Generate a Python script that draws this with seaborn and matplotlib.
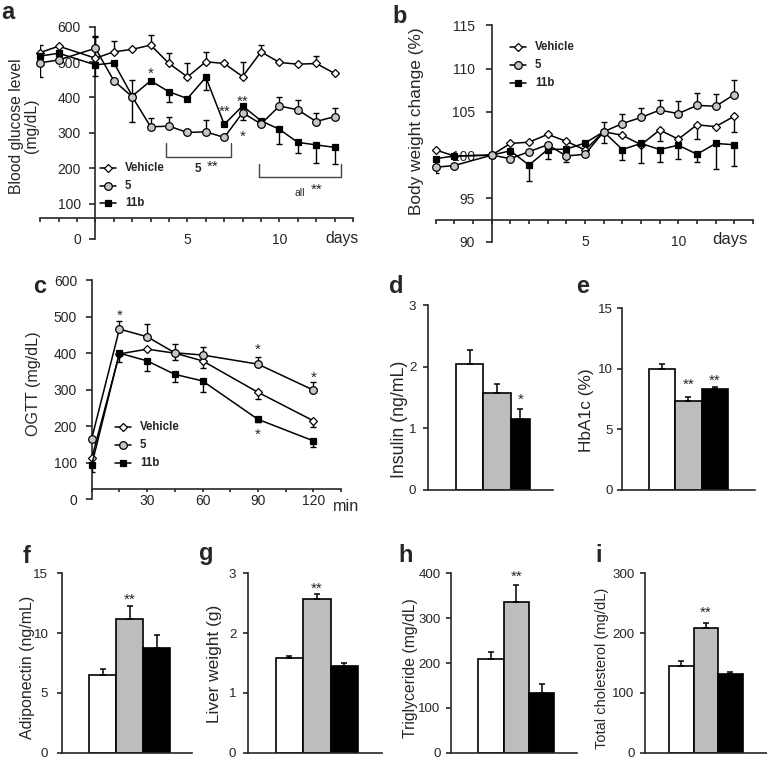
import numpy as np
import pandas as pd
import matplotlib
matplotlib.use("Agg")
import matplotlib.pyplot as plt
import seaborn as sns
from matplotlib.lines import Line2D

# ---------------- data ----------------
days = [-3, -2, 0, 1, 2, 3, 4, 5, 6, 7, 8, 9, 10, 11, 12, 13]

# (a) blood glucose (mg/dL)
glu_vehicle = [527, 545, 511, 529, 536, 548, 496, 458, 501, 496, 459, 529, 499, 494, 496, 468]
glu_vehicle_lo = [0, 0, 0, 0, 0, 0, 0, 0, 0, 0, 0, 0, 0, 0, 0, 0]
glu_vehicle_hi = [21, 0, 60, 31, 0, 29, 30, 40, 27, 0, 40, 19, 0, 0, 21, 0]
glu_5 = [498, 506, 539, 447, 402, 317, 319, 301, 303, 287, 357, 325, 376, 365, 332, 346]
glu_5_lo = [39, 0, 0, 0, 0, 0, 0, 0, 0, 0, 21, 0, 0, 0, 0, 0]
glu_5_hi = [0, 0, 35, 0, 47, 25, 27, 0, 33, 0, 0, 0, 26, 28, 25, 23]
glu_11b = [517, 525, 492, 498, 404, 447, 416, 397, 457, 324, 376, 334, 310, 273, 266, 259]
glu_11b_lo = [0, 0, 30, 0, 72, 0, 28, 8, 36, 0, 0, 0, 42, 31, 52, 47]
glu_11b_hi = [0] * 16

# (b) body weight change (%)
bw_vehicle = [100.6, 99.9, 100.0, 101.35, 101.5, 102.4, 101.6, 100.6, 102.7, 102.3, 101.2, 102.9, 101.85, 103.5, 103.3, 104.5]
bw_vehicle_lo = [0, 0, 0, 0, 0, 0, 0, 0, 0, 0, 0, 1.3, 0.8, 1.6, 0, 1.85]
bw_vehicle_hi = [0] * 16
bw_5 = [98.6, 98.8, 100.0, 99.6, 100.4, 101.2, 99.9, 100.1, 102.7, 103.65, 104.35, 105.2, 104.8, 105.75, 105.65, 107.0]
bw_5_lo = [0.7, 0, 0, 0, 0, 0, 0.65, 0, 0, 0, 0, 0, 0, 0, 0, 0]
bw_5_hi = [0, 0, 0, 0, 0, 0, 0, 0, 1.15, 1.1, 1.05, 1.2, 1.45, 1.4, 1.4, 1.65]
bw_11b = [99.6, 99.9, 100.0, 100.5, 98.85, 100.65, 100.7, 101.4, 102.7, 100.65, 101.35, 100.65, 101.15, 100.1, 101.35, 101.2]
bw_11b_lo = [0, 0, 0, 0, 1.8, 1.05, 0, 0, 1.35, 1.25, 2.3, 1.4, 1.55, 0.9, 3.0, 2.5]
bw_11b_hi = [0] * 16

# (c) OGTT (mg/dL)
ogtt_min = [0, 15, 30, 45, 60, 90, 120]
ogtt_vehicle = [112, 398, 411, 400, 379, 293, 215]
ogtt_vehicle_lo = [0, 0, 0, 20, 20, 19, 16]
ogtt_vehicle_hi = [0] * 7
ogtt_5 = [166, 466, 445, 401, 395, 370, 299]
ogtt_5_lo = [0] * 7
ogtt_5_hi = [0, 22, 34, 23, 23, 20, 23]
ogtt_11b = [94, 400, 379, 342, 324, 219, 160]
ogtt_11b_lo = [18, 23, 28, 20, 30, 8, 18]
ogtt_11b_hi = [0] * 7

# bar panels
groups = ["Vehicle", "5", "11b"]
insulin = [2.04, 1.58, 1.15]
insulin_err = [0.23, 0.14, 0.16]
hba1c = [10.0, 7.38, 8.35]
hba1c_err = [0.38, 0.33, 0.19]
adiponectin = [6.5, 11.15, 8.73]
adiponectin_err = [0.5, 1.12, 1.11]
liver = [1.584, 2.574, 1.444]
liver_err = [0.04, 0.08, 0.056]
triglyceride = [208, 337, 134]
triglyceride_err = [16, 37, 19]
cholesterol = [145.6, 208, 131.6]
cholesterol_err = [7.8, 9.5, 3.4]

# ---------------- style ----------------
sns.set_theme(style="ticks")
plt.rcParams["font.family"] = ["Liberation Sans", "DejaVu Sans"]
plt.rcParams["axes.linewidth"] = 1.2

W, H = 767, 760
fig = plt.figure(figsize=(W / 100, H / 100), dpi=100)

GRAY_PT = "#c6c6c6"
BAR_COLORS = ["white", "#bdbdbd", "black"]
STY = {
    "Vehicle": dict(marker="D", ms=4.4, mfc="white", z=3),
    "11b": dict(marker="s", ms=4.9, mfc="black", z=4),
    "5": dict(marker="o", ms=5.5, mfc=GRAY_PT, z=5),
}


def add_ax(l, t, r, b):
    return fig.add_axes([l / W, 1 - b / H, (r - l) / W, (b - t) / H])


def ftext(x, y, s, **kw):
    fig.text(x / W, 1 - y / H, s, **kw)


def style_axes(ax):
    for s in ["top", "right"]:
        ax.spines[s].set_visible(False)
    for s in ["left", "bottom"]:
        ax.spines[s].set_linewidth(1.2)
        ax.spines[s].set_zorder(1)
    ax.set_xlabel("")
    ax.set_ylabel("")
    ax.set_facecolor("none")
    ax.grid(False)


def draw_lines(ax, x, series):
    for name, y, lo, hi in series:
        st = STY[name]
        ax.errorbar(x, y, yerr=[lo, hi], fmt="none", ecolor="black",
                    elinewidth=1.0, capsize=2.3, capthick=1.0, zorder=st["z"] - 0.5)
        df = pd.DataFrame({"x": x, "y": y})
        sns.lineplot(data=df, x="x", y="y", ax=ax, color="black", linewidth=1.1,
                     marker=st["marker"], markersize=st["ms"], markerfacecolor=st["mfc"],
                     markeredgecolor="black", markeredgewidth=0.9, zorder=st["z"],
                     clip_on=False, legend=False, errorbar=None, sort=False)


def draw_bars(ax, vals, errs, last_width=1.0):
    df = pd.DataFrame({"group": groups, "value": vals})
    sns.barplot(data=df, x="group", y="value", hue="group", order=groups, hue_order=groups,
                palette=BAR_COLORS, saturation=1, width=1.0, edgecolor="black",
                linewidth=1.2, errorbar=None, legend=False, ax=ax)
    xs = [0.0, 1.0, 2.0]
    if last_width != 1.0:
        bars = sorted(ax.patches, key=lambda p: p.get_x())
        bars[-1].set_width(last_width)
        xs[2] = bars[-1].get_x() + last_width / 2
    ax.errorbar(xs, vals, yerr=[[0, 0, 0], errs], fmt="none", ecolor="black",
                elinewidth=1.1, capsize=2.5, capthick=1.1, zorder=3)
    return xs


def annot(ax, x, y, s, size=11, k=0.58, **kw):
    ax.annotate(s, (x, y), xytext=(0, -k * size), textcoords="offset points",
                ha="center", va="baseline", fontsize=size, annotation_clip=False, **kw)


def legend_rows(xm, x_text, ys):
    for name, y in zip(["Vehicle", "5", "11b"], ys):
        st = STY[name]
        yy = 1 - y / H
        fig.add_artist(Line2D([(xm - 8) / W, (xm + 8) / W], [yy, yy], color="black", lw=1.1,
                              transform=fig.transFigure))
        fig.add_artist(Line2D([xm / W], [yy], marker=st["marker"], ms=st["ms"],
                              mfc=st["mfc"], mec="black", mew=0.9, ls="none",
                              transform=fig.transFigure))
        ftext(x_text, y, name, ha="left", va="center", fontsize=8.3, fontweight="bold")


# ---------------- (a) ----------------
ax = add_ax(40.3, 26.7, 353, 239)
draw_lines(ax, days, [("Vehicle", glu_vehicle, glu_vehicle_lo, glu_vehicle_hi),
                      ("11b", glu_11b, glu_11b_lo, glu_11b_hi),
                      ("5", glu_5, glu_5_lo, glu_5_hi)])
style_axes(ax)
ax.set_xlim(-3, 14)
ax.set_ylim(0, 600)
ax.spines["left"].set_position(("data", 0))
ax.spines["bottom"].set_position(("data", 60))
ax.set_xticks(range(-3, 15))
ax.set_xticklabels(["5" if d == 5 else "10" if d == 10 else "" for d in range(-3, 15)])
ax.set_yticks(range(0, 700, 100))
ax.tick_params(axis="y", direction="out", length=4, width=1.2, pad=6.5, labelsize=10)
ax.tick_params(axis="x", direction="out", length=3, width=1.2, pad=8.3, labelsize=10)
ax.set_axisbelow(True)
annot(ax, 13.38, 2, "days", size=11.3, k=0.3)
annot(ax, 3, 480, "*")
annot(ax, 7.04, 372, "**")
annot(ax, 8, 402, "**")
annot(ax, 8, 303, "*")
ax.plot([3.81, 3.81, 7.35, 7.35], [270, 233, 233, 270], color="#444444", lw=1.0, clip_on=False)
ax.plot([8.89, 8.89, 13.34, 13.34], [212, 174, 174, 212], color="#444444", lw=1.0, clip_on=False)
annot(ax, 5.59, 200, "5", size=8.5, k=0.36, fontweight="bold")
annot(ax, 6.39, 218, "**")
annot(ax, 11.11, 131, "all", size=7.5, k=0.3)
annot(ax, 12.02, 153, "**")
legend_rows(108.3, 125, [168.3, 186, 203.3])
ftext(24, 126, "Blood glucose level\n(mg/dL)", rotation=90, ha="center", va="center",
      fontsize=11.3, linespacing=1.0, multialignment="center")

# ---------------- (b) ----------------
ax = add_ax(435.7, 25.3, 753, 241.7)
draw_lines(ax, days, [("Vehicle", bw_vehicle, bw_vehicle_lo, bw_vehicle_hi),
                      ("11b", bw_11b, bw_11b_lo, bw_11b_hi),
                      ("5", bw_5, bw_5_lo, bw_5_hi)])
style_axes(ax)
ax.set_xlim(-3, 14)
ax.set_ylim(90, 115)
ax.spines["left"].set_position(("data", 0))
ax.spines["bottom"].set_position(("data", 92.5))
ax.set_xticks(range(-3, 15))
ax.set_xticklabels(["5" if d == 5 else "10" if d == 10 else "" for d in range(-3, 15)])
ax.set_yticks(range(90, 120, 5))
ax.tick_params(axis="y", direction="out", length=4, width=1.2, pad=8, labelsize=10)
ax.tick_params(axis="x", direction="out", length=3, width=1.2, pad=8, labelsize=10)
ax.set_axisbelow(True)
annot(ax, 12.79, 90.3, "days", size=12, k=0.3)
legend_rows(517.5, 535, [47.3, 65, 82.7])
ftext(416.7, 121, "Body weight change (%)", rotation=90, ha="center", va="center", fontsize=12.4)

# ---------------- (c) ----------------
ax = add_ax(91.7, 280.1, 341, 499.3)
draw_lines(ax, ogtt_min, [("Vehicle", ogtt_vehicle, ogtt_vehicle_lo, ogtt_vehicle_hi),
                          ("11b", ogtt_11b, ogtt_11b_lo, ogtt_11b_hi),
                          ("5", ogtt_5, ogtt_5_lo, ogtt_5_hi)])
style_axes(ax)
ax.set_xlim(0, 135)
ax.set_ylim(0, 600)
ax.spines["bottom"].set_position(("data", 27))
ax.set_xticks(range(0, 150, 15))
ax.set_xticklabels([str(t) if t in (30, 60, 90, 120) else "" for t in range(0, 150, 15)])
ax.set_yticks(range(0, 700, 100))
ax.tick_params(axis="y", direction="out", length=4, width=1.2, pad=6.5, labelsize=10)
ax.tick_params(axis="x", direction="out", length=2.5, width=1.2, pad=1.1, labelsize=10)
ax.set_axisbelow(True)
annot(ax, 137.7, -18, "min", size=11.6, k=0.3)
annot(ax, 15, 515, "*")
annot(ax, 90, 422, "*")
annot(ax, 120, 345, "*")
annot(ax, 90, 190, "*")
legend_rows(123.3, 140, [426.7, 445, 463.3])
ftext(33.3, 384, "OGTT (mg/dL)", rotation=90, ha="center", va="center", fontsize=11.6)


# ---------------- bar panels ----------------
def bar_panel(box, xlim, vals, errs, ymax, ystep, label, lab_xy, lab_size, stars, tpad=5,
              last_width=1.0):
    ax = add_ax(*box)
    xs = draw_bars(ax, vals, errs, last_width)
    style_axes(ax)
    ax.set_xlim(*xlim)
    ax.set_ylim(0, ymax)
    ax.set_xticks([])
    ax.set_yticks(np.arange(0, ymax + ystep / 2, ystep))
    ax.set_yticklabels([f"{v:g}" for v in np.arange(0, ymax + ystep / 2, ystep)])
    ax.tick_params(axis="y", direction="out", length=3.6, width=1.2, pad=tpad, labelsize=9.6)
    for (i, yy, s) in stars:
        annot(ax, xs[i], yy, s)
    ftext(lab_xy[0], lab_xy[1], label, rotation=90, ha="center", va="center", fontsize=lab_size)
    return ax


bar_panel((428.3, 305, 553, 490), (-1.54, 3.07), insulin, insulin_err, 3, 1,
          "Insulin (ng/mL)", (399, 419), 12.8, [(2, 1.54, "*")], last_width=0.72)
bar_panel((621.7, 308.3, 755, 490), (-1.55, 3.54), hba1c, hba1c_err, 15, 5,
          "HbA1c (%)", (586.5, 410), 12.4, [(1, 9.1, "**"), (2, 9.4, "**")], tpad=2.5)
bar_panel((61.7, 573.3, 191.7, 752.7), (-1.53, 3.30), adiponectin, adiponectin_err, 15, 5,
          "Adiponectin (ng/mL)", (27.5, 667.5), 11.5, [(1, 13.2, "**")], tpad=6)
bar_panel((248.3, 573.3, 381.7, 752.7), (-1.50, 3.36), liver, liver_err, 3, 1,
          "Liver weight (g)", (215, 664), 12.4, [(1, 2.83, "**")])
bar_panel((451, 573.3, 576.7, 752.7), (-1.58, 3.39), triglyceride, triglyceride_err, 400, 100,
          "Triglyceride (mg/dL)", (411, 668), 11.3, [(1, 404, "**")], tpad=4)
bar_panel((645, 573.3, 766.7, 752.7), (-1.49, 3.48), cholesterol, cholesterol_err, 300, 100,
          "Total cholesterol (mg/dL)", (602, 668), 10.5, [(1, 242, "**")], tpad=4)

# panel letters
for letter, x, y in [("a", 8.3, 19.3), ("b", 400, 23.3), ("c", 40, 292.7), ("d", 396, 293),
                     ("e", 583, 293), ("f", 27, 563), ("g", 206, 560), ("h", 406, 561.7),
                     ("i", 598.5, 561.7)]:
    ftext(x, y, letter, ha="center", va="baseline", fontsize=17, fontweight="bold")

fig.savefig("out.png", dpi=100)
